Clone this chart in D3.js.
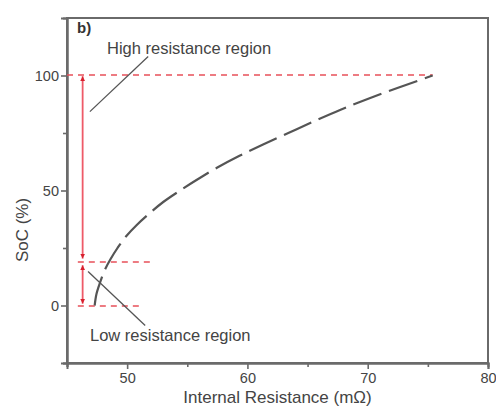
<!DOCTYPE html>
<html>
<head>
<meta charset="utf-8">
<script src="https://cdn.jsdelivr.net/npm/d3@7"></script>
<style>
  html, body { margin: 0; padding: 0; background: #fff; }
  svg { display: block; font-family: "Liberation Sans", Arial, sans-serif; }
</style>
</head>
<body>
<svg id="chart" width="496" height="407"></svg>
<script>
// SoC vs internal resistance profile
const soc = [0, 5, 10, 15, 20, 25, 30, 35, 40, 45, 50, 55, 60, 65, 70, 75, 80, 85, 90, 95, 100];
const resistance = [47.3, 47.45, 47.75, 48.1, 48.6, 49.2, 49.9, 50.8, 51.85, 53.0, 54.4, 55.9, 57.5, 59.3, 61.3, 63.4, 65.5, 67.7, 70.1, 72.7, 75.4];

const xTicks = [50, 60, 70, 80];
const xMinorTicks = [45, 55, 65, 75];
const yTicks = [0, 50, 100];
const yMinorTicks = [-25, 25, 75];

// region boundaries (SoC %) and guide extents (mΩ)
const regionSoC = [0, 19, 100];
const guideEnd = [51.1, 52.2, 75.4];
const guideStart = [45.9, 45.9, 45];
const arrowX = 46.3;

const svg = d3.select("#chart");
const m = { left: 67, top: 18, right: 488, bottom: 363 };

const x = d3.scaleLinear().domain([45, 80]).range([m.left, m.right]);
const y = d3.scaleLinear().domain([-25, 125]).range([m.bottom, m.top]);

const axisColor = "#6a6a6a";
const red = "#e8505a";

// frame
svg.append("rect")
  .attr("x", m.left).attr("y", m.top)
  .attr("width", m.right - m.left).attr("height", m.bottom - m.top)
  .attr("fill", "none").attr("stroke", axisColor).attr("stroke-width", 2);

// x axis
const xAxis = svg.append("g").attr("transform", `translate(0,${m.bottom})`)
  .call(d3.axisBottom(x).tickValues(xTicks).tickSize(6).tickPadding(4).tickFormat(d3.format("d")));
const xMinor = svg.append("g").attr("transform", `translate(0,${m.bottom})`)
  .call(d3.axisBottom(x).tickValues(xMinorTicks).tickSize(4).tickFormat(""));

// y axis
const yAxis = svg.append("g").attr("transform", `translate(${m.left},0)`)
  .call(d3.axisLeft(y).tickValues(yTicks).tickSize(6).tickPadding(2).tickFormat(d3.format("d")));
const yMinor = svg.append("g").attr("transform", `translate(${m.left},0)`)
  .call(d3.axisLeft(y).tickValues(yMinorTicks).tickSize(4).tickFormat(""));

[xAxis, xMinor, yAxis, yMinor].forEach(g => {
  g.select(".domain").attr("stroke", axisColor).attr("stroke-width", 2);
  g.selectAll(".tick line").attr("stroke", axisColor).attr("stroke-width", 1.6);
  g.selectAll(".tick text").attr("fill", "#444").style("font-size", "14.5px")
    .style("font-family", "'Liberation Sans', Arial, sans-serif");
});

// axis titles
svg.append("text")
  .attr("x", (m.left + m.right) / 2).attr("y", 403)
  .attr("text-anchor", "middle").attr("fill", "#444").style("font-size", "17px")
  .text("Internal Resistance (mΩ)");

svg.append("text")
  .attr("transform", "translate(28,230) rotate(-90)")
  .attr("text-anchor", "middle").attr("fill", "#444").style("font-size", "17px")
  .text("SoC (%)");

svg.append("text")
  .attr("x", 77).attr("y", 33)
  .attr("fill", "#333").style("font-size", "15px").style("font-weight", "bold")
  .text("b)");

// red horizontal guides
svg.append("g").attr("class", "guides").selectAll("line")
  .data(regionSoC)
  .join("line")
  .attr("x1", (d, i) => x(guideStart[i]))
  .attr("x2", (d, i) => x(guideEnd[i]))
  .attr("y1", d => Math.round(y(d))).attr("y2", d => Math.round(y(d)))
  .attr("stroke", red).attr("stroke-width", 1.3).attr("stroke-dasharray", "6,5");

// red double arrows marking the two regions
const defs = svg.append("defs");
defs.append("marker")
  .attr("id", "arr").attr("viewBox", "0 0 10 10")
  .attr("refX", 10).attr("refY", 5)
  .attr("markerWidth", 5).attr("markerHeight", 5)
  .attr("markerUnits", "userSpaceOnUse")
  .attr("orient", "auto-start-reverse")
  .append("path").attr("d", "M0,0 L10,5 L0,10 Z").attr("fill", "#d8202e");

const spans = [[regionSoC[2] - 0.3, regionSoC[1] + 1.4], [regionSoC[1] - 1.5, regionSoC[0] + 0.8]];
svg.append("g").attr("class", "spans").selectAll("line")
  .data(spans)
  .join("line")
  .attr("x1", x(arrowX)).attr("x2", x(arrowX))
  .attr("y1", d => y(d[0])).attr("y2", d => y(d[1]))
  .attr("stroke", "#ee5a68").attr("stroke-width", 1.8)
  .attr("marker-start", "url(#arr)").attr("marker-end", "url(#arr)");

// resistance curve
const line = d3.line()
  .x((d, i) => x(resistance[i]))
  .y(d => y(d))
  .curve(d3.curveMonotoneY);

svg.append("path")
  .datum(soc)
  .attr("d", line)
  .attr("fill", "none")
  .attr("stroke", "#555")
  .attr("stroke-width", 2.2)
  .attr("stroke-dasharray", "30,8");

// region annotations
const notes = [
  { text: "High resistance region", tx: 107, ty: 54, from: [46.9, 84.3], to: [51.75, 108.3] },
  { text: "Low resistance region", tx: 90, ty: 341, from: [46.75, 14.8], to: [51.5, -8.7] }
];
const ng = svg.append("g").attr("class", "notes");
ng.selectAll("line").data(notes).join("line")
  .attr("x1", d => x(d.from[0])).attr("y1", d => y(d.from[1]))
  .attr("x2", d => x(d.to[0])).attr("y2", d => y(d.to[1]))
  .attr("stroke", "#555").attr("stroke-width", 1.3);
ng.selectAll("text").data(notes).join("text")
  .attr("x", d => d.tx).attr("y", d => d.ty)
  .attr("fill", "#444").style("font-size", "16.5px")
  .text(d => d.text);
</script>
</body>
</html>
